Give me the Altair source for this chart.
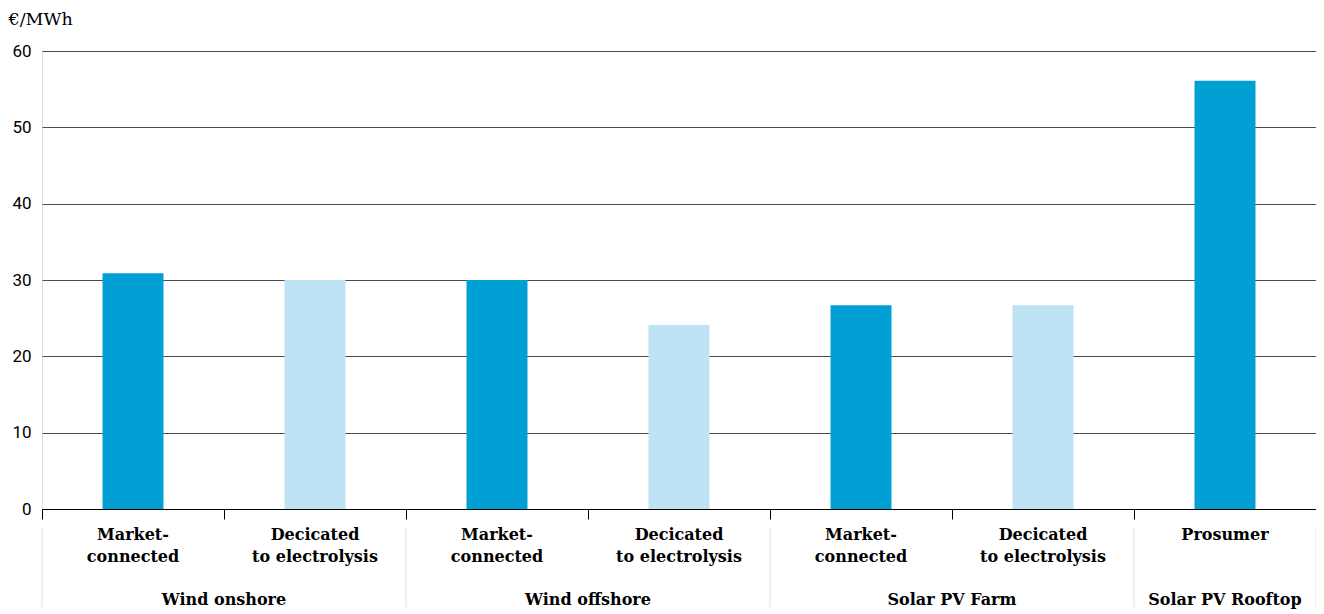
import altair as alt
import pandas as pd

keys = ["c0", "c1", "c2", "c3", "c4", "c5", "c6"]
groups = ["Wind onshore", "Wind onshore", "Wind offshore", "Wind offshore",
          "Solar PV Farm", "Solar PV Farm", "Solar PV Rooftop"]
labels = ["Market-\nconnected", "Decicated\nto electrolysis",
          "Market-\nconnected", "Decicated\nto electrolysis",
          "Market-\nconnected", "Decicated\nto electrolysis",
          "Prosumer"]
kinds = ["Market", "Dedicated", "Market", "Dedicated", "Market", "Dedicated", "Market"]
values = [30.9, 30.0, 30.0, 24.1, 26.7, 26.7, 56.1]

group_names = ["Wind onshore", "Wind offshore", "Solar PV Farm", "Solar PV Rooftop"]
group_anchor = ["c0", "c2", "c4", "c6"]
group_band = [1.0, 1.0, 1.0, 0.5]

sep_keys = ["c0", "c2", "c4", "c6", "c6"]
sep_band = [0.0, 0.0, 0.0, 0.0, 1.0]

df = pd.DataFrame({"key": keys, "group": groups, "label": labels,
                   "kind": kinds, "value": values})
gdf = pd.DataFrame({"key": group_anchor, "name": group_names, "bp": group_band})
sdf = pd.DataFrame({"key": sep_keys, "bp": sep_band})

FONT = "Roboto"
SLAB = "DejaVu Serif"
W, H = 1274, 458
LBL = 16

xscale = alt.Scale(domain=keys, paddingInner=0, paddingOuter=0)

bars = alt.Chart(df).mark_bar(width=alt.RelativeBandSize(0.335)).encode(
    x=alt.X("key:N", scale=xscale, sort=keys,
            axis=alt.Axis(labels=False, title=None, domainColor="#000000",
                          tickColor="#000000", tickSize=10, tickBand="extent",
                          grid=False, domainWidth=1)),
    y=alt.Y("value:Q", scale=alt.Scale(domain=[0, 60], nice=False),
            axis=alt.Axis(values=[0, 10, 20, 30, 40, 50, 60], grid=True,
                          gridColor="#4d4d4d", gridWidth=1, domain=False,
                          ticks=False, labelFontSize=17, labelColor="#000000",
                          labelFont=FONT, labelPadding=11,
                          title="€/MWh", titleAngle=0, titleAlign="left",
                          titleBaseline="alphabetic", titleX=-34, titleY=-27,
                          titleFontSize=17.5, titleFontWeight="normal",
                          titleFont=SLAB, titleColor="#000000")),
    color=alt.Color("kind:N", scale=alt.Scale(domain=["Market", "Dedicated"],
                                               range=["#009fd4", "#bee3f4"]),
                    legend=None),
)

cat_text = alt.Chart(df).mark_text(
    font=SLAB, fontSize=LBL, fontWeight="bold", baseline="alphabetic",
    lineBreak="\n", lineHeight=22, color="#000000"
).encode(
    x=alt.X("key:N", scale=xscale, sort=keys),
    y=alt.value(489),
    text="label:N",
)

grp_two = alt.Chart(gdf).mark_text(
    font=SLAB, fontSize=LBL, fontWeight="bold", baseline="alphabetic",
    color="#000000"
).encode(
    x=alt.X("key:N", scale=xscale, sort=keys, bandPosition=1.0),
    y=alt.value(554),
    text="name:N",
).transform_filter("datum.bp == 1")

grp_one = alt.Chart(gdf).mark_text(
    font=SLAB, fontSize=LBL, fontWeight="bold", baseline="alphabetic",
    color="#000000"
).encode(
    x=alt.X("key:N", scale=xscale, sort=keys, bandPosition=0.5),
    y=alt.value(554),
    text="name:N",
).transform_filter("datum.bp == 0.5")

sep_left = alt.Chart(sdf).mark_rule(color="#dddddd", strokeWidth=1).encode(
    x=alt.X("key:N", scale=xscale, sort=keys, bandPosition=0.0),
    y=alt.value(477), y2=alt.value(556),
).transform_filter("datum.bp == 0")
sep_right = alt.Chart(sdf).mark_rule(color="#dddddd", strokeWidth=1).encode(
    x=alt.X("key:N", scale=xscale, sort=keys, bandPosition=1.0),
    y=alt.value(477), y2=alt.value(556),
).transform_filter("datum.bp == 1")

chart = alt.layer(bars, cat_text, grp_two, grp_one, sep_left, sep_right).properties(
    width=W, height=H,
    autosize=alt.AutoSizeParams(type="none"),
    padding={"left": 34, "top": 43, "right": 0, "bottom": 105},
).configure_view(stroke=None).configure(font=FONT)

chart.save("out.html", embed_options={"renderer": "svg", "actions": False})
